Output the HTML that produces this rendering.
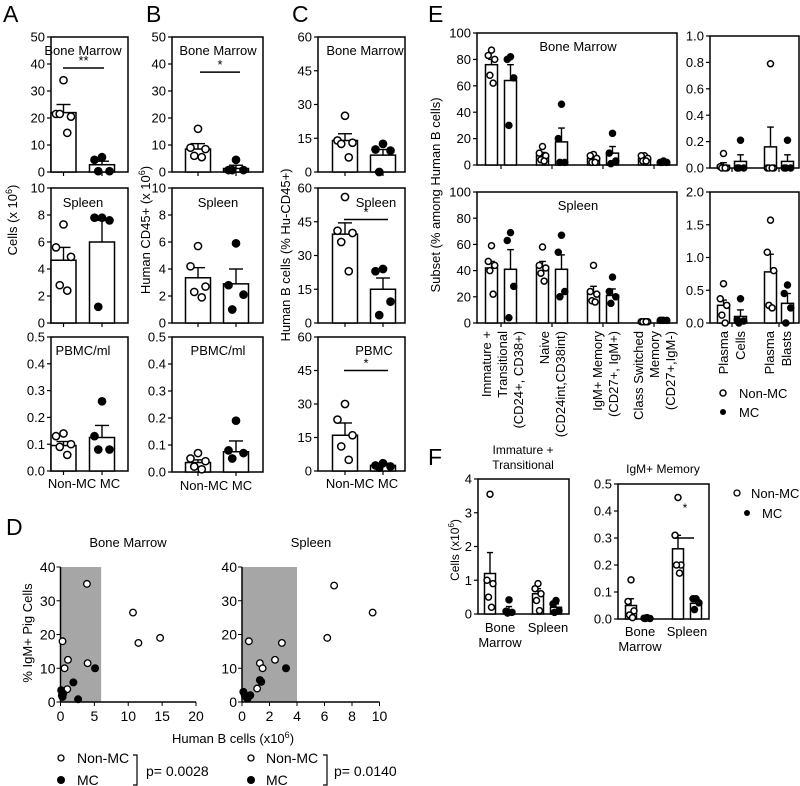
<!DOCTYPE html>
<html><head><meta charset="utf-8"><style>
body{margin:0;background:#fff}
svg{display:block;font-family:"Liberation Sans",sans-serif}
</style></head><body>
<svg id="fig" width="800" height="786" viewBox="0 0 800 786" xmlns="http://www.w3.org/2000/svg">
<g font-size="23">
<text x="3" y="22">A</text>
<text x="146" y="22">B</text>
<text x="292" y="22">C</text>
<text x="428" y="22">E</text>
<text x="6" y="535">D</text>
<text x="428" y="465">F</text>
</g>
<g font-size="13">
<text transform="translate(17,220) rotate(-90)" text-anchor="middle">Cells (x 10<tspan font-size="9" dy="-5">6</tspan><tspan dy="5">)</tspan></text>
<text transform="translate(150,230) rotate(-90)" text-anchor="middle">Human CD45+ (x 10<tspan font-size="9" dy="-5">6</tspan><tspan dy="5">)</tspan></text>
<text transform="translate(290,255) rotate(-90)" text-anchor="middle">Human B cells (% Hu-CD45+)</text>
<text transform="translate(440,195) rotate(-90)" text-anchor="middle">Subset (% among Human B cells)</text>
<text x="84" y="488" text-anchor="middle">Non-MC MC</text>
<text x="216" y="490" text-anchor="middle">Non-MC MC</text>
<text x="362" y="488" text-anchor="middle">Non-MC MC</text>
</g>
<g id="layer"></g>
</svg>
<script>
// ===== Panel A data =====
const aBmMean=[22,2.7], aBmSem=[3,1.3], aBmNon=[34,21.5,20.5,21.5,14.5], aBmMc=[5.5,4.5,0.3,0.3];
const aSpMean=[4.65,6], aSpSem=[0.95,1.6], aSpNon=[7.3,5.6,4.9,2.8,2.4], aSpMc=[7.8,7.8,7.6,1.2];
const aPbMean=[0.095,0.125], aPbSem=[0.015,0.045], aPbNon=[0.14,0.13,0.1,0.09,0.06], aPbMc=[0.26,0.13,0.08,0.08];
// ===== Panel B data =====
const bBmMean=[8.5,1.3], bBmSem=[2,1.2], bBmNon=[16,9,8.5,6,5.5], bBmMc=[4.5,0.7,0.7,0.7];
const bSpMean=[3.35,2.9], bSpSem=[0.75,1.1], bSpNon=[5.7,4.2,2.7,2.3,1.9], bSpMc=[5.9,2.8,2.1,1.0];
const bPbMean=[0.035,0.075], bPbSem=[0.01,0.04], bPbNon=[0.07,0.05,0.04,0.02,0.01], bPbMc=[0.19,0.08,0.07,0.05];
// ===== Panel C data =====
const cBmMean=[14,7.5], cBmSem=[3,2.5], cBmNon=[25,14,13,12.5,6.5], cBmMc=[12.5,10,9.5,0];
const cSpMean=[39.5,15], cSpSem=[5,5], cSpNon=[56,41,40,36,23], cSpMc=[24,23,9.5,3.5];
const cPbMean=[16,2.5], cPbSem=[5.5,1], cPbNon=[30,23,16,11,5], cPbMc=[3.5,2.5,2,1.5];
// ===== Panel E data (subsets: Imm, Naive, IgM mem, CS mem) =====
const eSubsets=["Immature + Transitional","Naive","IgM+ Memory","Class Switched Memory"];
const eBmNonMean=[76,7,5,5], eBmNonSem=[4,2.5,1.5,1], eBmMcMean=[64,17.5,9,2], eBmMcSem=[12,10.5,5,0.5];
const eBmNonPts=[[87,83,80,68,62],[14,9,7,4,3],[8,7,5,2,2],[7,7,5,3,3]];
const eBmMcPts=[[82,80,66,30],[46,20,2,2],[24,9,3,1],[3,2,2,2]];
const eSpNonMean=[42,43,23,1], eSpNonSem=[5,4,5,0.3], eSpMcMean=[41,41,21,1.5], eSpMcSem=[15,11,5,0.3];
const eSpNonPts=[[59,47,44,40,22],[58,44,42,38,32],[44,24,22,17,16],[1,1,1,1,1]];
const eSpMcPts=[[69,63,28,4],[67,54,24,20],[35,24,20,15],[2,2,2,2]];
const ePcBmNonMean=[0.02,0.16], ePcBmNonSem=[0.02,0.15], ePcBmMcMean=[0.05,0.05], ePcBmMcSem=[0.05,0.05];
const ePcBmNonPts=[[0.11,0.01,0,0,0],[0.79,0,0,0,0]], ePcBmMcPts=[[0.21,0,0,0],[0.21,0,0,0]];
const ePcSpNonMean=[0.27,0.78], ePcSpNonSem=[0.08,0.27], ePcSpMcMean=[0.1,0.3], ePcSpMcSem=[0.1,0.15];
const ePcSpNonPts=[[0.6,0.37,0.27,0.12,0],[1.57,1.08,0.8,0.27,0.23]], ePcSpMcPts=[[0.37,0.05,0.03,0],[0.58,0.45,0.23,0]];
// ===== Panel D data =====
const dBmNonX=[0.3,0.6,1.1,1,3.9,4,10.7,11.5,14.7], dBmNonY=[18,10,12.5,3.8,35,11.5,26.5,17.5,19];
const dBmMcX=[0.1,0.2,0.3,0.4,1.9,2.6,5.1], dBmMcY=[3.5,2,1.5,2.5,5.8,0.8,10];
const dSpNonX=[0.5,1.3,1.5,1.1,2.4,2.9,6.2,6.7,9.5], dSpNonY=[18,11.5,10,4,12.5,17.5,19,34.5,26.5];
const dSpMcX=[0.1,0.2,0.3,0.4,0.6,1.3,1.4,3.2], dSpMcY=[3,2,1.5,1,2,6.5,6,10];
// ===== Panel F data (Bone Marrow, Spleen) =====
const fImmNonMean=[1.2,0.6], fImmNonSem=[0.62,0.15], fImmMcMean=[0.1,0.2], fImmMcSem=[0.12,0.1];
const fImmNonPts=[[3.55,1.0,0.9,0.5,0.2],[0.9,0.75,0.6,0.4,0.1]], fImmMcPts=[[0.42,0.08,0.05,0.03],[0.4,0.3,0.1,0.05]];
const fIgmNonMean=[0.05,0.26], fIgmNonSem=[0.025,0.05], fIgmMcMean=[0.003,0.058], fIgmMcSem=[0.002,0.012];
const fIgmNonPts=[[0.145,0.065,0.03,0.015,0.005],[0.45,0.31,0.2,0.2,0.17]], fIgmMcPts=[[0.005,0.003,0.002,0.002],[0.075,0.075,0.06,0.035]];

const NS="http://www.w3.org/2000/svg";
const layer=document.getElementById('layer');
function mk(tag,attrs,parent){const e=document.createElementNS(NS,tag);for(const k in attrs)e.setAttribute(k,attrs[k]);(parent||layer).appendChild(e);return e;}
const JIT=[0,-0.3,0.3,-0.15,0.15];

function barPlot(o){
  const g=mk('g',{});
  
  
  const Y=v=>o.yBot-(v/o.max)*(o.yBot-o.yTop);
  const fs=o.fs||13;
  const r=mk('rect',{x:o.x0,y:o.yTop,width:o.x1-o.x0,height:o.yBot-o.yTop,fill:'none',stroke:'#000','stroke-width':1.5},g);
  
  o.ticks.forEach(t=>{const y=Y(t);mk('line',{x1:o.x0-4,y1:y,x2:o.x0,y2:y,stroke:'#000','stroke-width':1.2},g);
    const tx=mk('text',{x:o.x0-6,y:y+fs*0.35,'text-anchor':'end','font-size':fs},g);tx.textContent=o.fmt?t.toFixed(o.fmt):t;
    });
  (o.xticks||[]).forEach(x=>mk('line',{x1:x,y1:o.yBot,x2:x,y2:o.yBot+4,stroke:'#000','stroke-width':1.2},g));
  o.groups.forEach(gr=>{
    const bw=o.bw, top=Y(gr.mean);
    const b=mk('rect',{x:gr.cx-bw/2,y:top,width:bw,height:o.yBot-top,fill:'#fff',stroke:'#000','stroke-width':1.5},g);
    
    const ye=Y(gr.mean+gr.sem);
    mk('line',{x1:gr.cx,y1:top,x2:gr.cx,y2:ye,stroke:'#000','stroke-width':1.4},g);
    mk('line',{x1:gr.cx-bw*0.28,y1:ye,x2:gr.cx+bw*0.28,y2:ye,stroke:'#000','stroke-width':1.4},g);
    gr.pts.forEach((v,i)=>{const c=mk('circle',{cx:gr.cx+JIT[i]*bw*(o.jit||1),cy:Y(v),r:o.r||3.6,fill:gr.filled?'#000':'#fff',stroke:'#000','stroke-width':1.5},g);
      });
  });
  (o.sig||[]).forEach(s=>{const y=Y(s[2]);mk('line',{x1:s[0],y1:y,x2:s[1],y2:y,stroke:'#000','stroke-width':1.5},g);
    const t=mk('text',{x:(s[0]+s[1])/2,y:y-3,'text-anchor':'middle','font-size':13},g);t.textContent=s[3];});
  if(o.title){const t=mk('text',{x:o.tx,y:o.ty,'text-anchor':'middle','font-size':o.tfs||13},g);t.textContent=o.title;
    }
  return g;
}
function two(means,sems,non,mc,c1,c2){return [{cx:c1,mean:means[0],sem:sems[0],pts:non},{cx:c2,mean:means[1],sem:sems[1],pts:mc,filled:true}];}
// A
barPlot({name:'a-bone-marrow',x0:51,x1:128,yTop:37,yBot:172,max:50,ticks:[0,10,20,30,40,50],bw:25,xticks:[63.5,102],groups:two(aBmMean,aBmSem,aBmNon,aBmMc,63.5,102),title:'Bone Marrow',tx:83,ty:55,sig:[[63,104,38.5,'**']]});
barPlot({name:'a-spleen',x0:51,x1:128,yTop:188,yBot:323,max:10,ticks:[0,2,4,6,8,10],bw:25,xticks:[63.5,102],groups:two(aSpMean,aSpSem,aSpNon,aSpMc,63.5,102),title:'Spleen',tx:83,ty:207});
barPlot({name:'a-pbmc',x0:51,x1:128,yTop:337,yBot:471,max:0.5,ticks:[0,0.1,0.2,0.3,0.4,0.5],fmt:1,bw:25,xticks:[63.5,102],groups:two(aPbMean,aPbSem,aPbNon,aPbMc,63.5,102),title:'PBMC/ml',tx:83,ty:355});
// B
barPlot({name:'b-bone-marrow',x0:172,x1:263,yTop:37,yBot:172,max:50,ticks:[0,10,20,30,40,50],bw:25,xticks:[198,236],groups:two(bBmMean,bBmSem,bBmNon,bBmMc,198,236),title:'Bone Marrow',tx:218,ty:55,sig:[[200,240,37,'*']]});
barPlot({name:'b-spleen',x0:172,x1:263,yTop:188,yBot:323,max:10,ticks:[0,2,4,6,8,10],bw:25,xticks:[198,236],groups:two(bSpMean,bSpSem,bSpNon,bSpMc,198,236),title:'Spleen',tx:218,ty:207});
barPlot({name:'b-pbmc',x0:172,x1:263,yTop:337,yBot:472,max:0.5,ticks:[0,0.1,0.2,0.3,0.4,0.5],fmt:1,bw:25,xticks:[198,236],groups:two(bPbMean,bPbSem,bPbNon,bPbMc,198,236),title:'PBMC/ml',tx:218,ty:355});
// C
barPlot({name:'c-bone-marrow',x0:318,x1:405,yTop:37,yBot:172,max:60,ticks:[0,15,30,45,60],bw:25,xticks:[345,383],groups:two(cBmMean,cBmSem,cBmNon,cBmMc,345,383),title:'Bone Marrow',tx:365,ty:55});
barPlot({name:'c-spleen',x0:318,x1:405,yTop:188,yBot:323,max:60,ticks:[0,15,30,45,60],bw:25,xticks:[345,383],groups:two(cSpMean,cSpSem,cSpNon,cSpMc,345,383),title:'Spleen',tx:376,ty:207,sig:[[344,388,46,'*']]});
barPlot({name:'c-pbmc',x0:318,x1:405,yTop:337,yBot:471,max:60,ticks:[0,15,30,45,60],bw:25,xticks:[345,383],groups:two(cPbMean,cPbSem,cPbNon,cPbMc,345,383),title:'PBMC',tx:374,ty:355,sig:[[344,388,45,'*']]});
// E
const eTicks=[501,552,603,654];
function eGroups(nm,ns,mm,ms,np,mp,ticks,off){const out=[];ticks.forEach((t,i)=>{out.push({cx:t-off,mean:nm[i],sem:ns[i],pts:np[i]});out.push({cx:t+off,mean:mm[i],sem:ms[i],pts:mp[i],filled:true});});return out;}
barPlot({name:'e-bone-marrow-subsets',x0:477,x1:677,yTop:33,yBot:165,max:100,ticks:[0,20,40,60,80,100],bw:12,r:3,jit:0.9,xticks:eTicks,groups:eGroups(eBmNonMean,eBmNonSem,eBmMcMean,eBmMcSem,eBmNonPts,eBmMcPts,eTicks,9.5),title:'Bone Marrow',tx:578,ty:51});
barPlot({name:'e-spleen-subsets',x0:477,x1:677,yTop:192,yBot:323,max:100,ticks:[0,20,40,60,80,100],bw:12,r:3,jit:0.9,xticks:eTicks,groups:eGroups(eSpNonMean,eSpNonSem,eSpMcMean,eSpMcSem,eSpNonPts,eSpMcPts,eTicks,9.5),title:'Spleen',tx:578,ty:210});
const pTicks=[732,779];
barPlot({name:'e-bone-marrow-plasma',x0:710,x1:799,yTop:36,yBot:168,max:1,ticks:[0,0.2,0.4,0.6,0.8,1.0],fmt:1,bw:12,r:3,jit:0.9,xticks:pTicks,groups:eGroups(ePcBmNonMean,ePcBmNonSem,ePcBmMcMean,ePcBmMcSem,ePcBmNonPts,ePcBmMcPts,pTicks,8.5)});
barPlot({name:'e-spleen-plasma',x0:710,x1:799,yTop:192,yBot:323,max:2,ticks:[0,0.5,1.0,1.5,2.0],fmt:1,bw:12,r:3,jit:0.9,xticks:pTicks,groups:eGroups(ePcSpNonMean,ePcSpNonSem,ePcSpMcMean,ePcSpMcSem,ePcSpNonPts,ePcSpMcPts,pTicks,8.5)});
const eLab=[[486,"Immature +"],[502,"Transitional"],[518,"(CD24+, CD38+)"],[544,"Naive"],[560,"(CD24int,CD38int)"],[597,"IgM+ Memory"],[613,"(CD27+, IgM+)"],[638,"Class Switched"],[654,"Memory"],[670,"(CD27+,IgM-)"],[723,"Plasma"],[740,"Cells"],[769,"Plasma"],[786,"Blasts"]];
eLab.forEach(l=>{const t=mk('text',{transform:`translate(${l[0]+5},331) rotate(-90)`,'text-anchor':'end','font-size':13});t.textContent=l[1];
  });
mk('circle',{cx:723,cy:393,r:3,fill:'#fff',stroke:'#000','stroke-width':1.5});
mk('circle',{cx:723,cy:412,r:3,fill:'#000'});
{const t=mk('text',{x:739,y:398,'font-size':13});t.textContent='Non-MC';}
{const t=mk('text',{x:739,y:417,'font-size':13});t.textContent='MC';}

function txt(x,y,html,fs,name,anchor){const t=mk('text',{x:x,y:y,'font-size':fs,'text-anchor':anchor||'start'});t.innerHTML=html;return t;}
// D scatter
function scatter(o){
  const g=mk('g',{});
  const X=v=>o.x0+v/o.xmax*(o.x1-o.x0), Y=v=>o.yBot-v/40*(o.yBot-o.yTop);
  mk('rect',{x:X(0),y:o.yTop,width:X(o.shade)-X(0),height:o.yBot-o.yTop,fill:'#a6a6a6'},g);
  mk('line',{x1:o.x0,y1:o.yTop,x2:o.x0,y2:o.yBot,stroke:'#000','stroke-width':1.5},g);
  mk('line',{x1:o.x0,y1:o.yBot,x2:o.x1,y2:o.yBot,stroke:'#000','stroke-width':1.5},g);
  [0,10,20,30,40].forEach(t=>{mk('line',{x1:o.x0-4,y1:Y(t),x2:o.x0,y2:Y(t),stroke:'#000'},g);const s=mk('text',{x:o.x0-5,y:Y(t)+5,'text-anchor':'end','font-size':14},g);s.textContent=t;});
  o.xt.forEach(t=>{mk('line',{x1:X(t),y1:o.yBot,x2:X(t),y2:o.yBot+4,stroke:'#000'},g);const s=mk('text',{x:X(t),y:o.yBot+19,'text-anchor':'middle','font-size':14},g);s.textContent=t;});
  o.nx.forEach((v,i)=>{const c=mk('circle',{cx:X(v),cy:Y(o.ny[i]),r:3.3,fill:'#fff',stroke:'#000','stroke-width':1.3},g);});
  o.mx.forEach((v,i)=>{const c=mk('circle',{cx:X(v),cy:Y(o.my[i]),r:4,fill:'#000'},g);});
  const t=mk('text',{x:o.tx,y:547,'text-anchor':'middle','font-size':13},g);t.textContent=o.title;
}
scatter({name:'d-bone-marrow-scatter',x0:60.5,x1:196,yTop:567,yBot:702,xmax:20,shade:6,xt:[0,5,10,15,20],nx:dBmNonX,ny:dBmNonY,mx:dBmMcX,my:dBmMcY,title:'Bone Marrow',tx:128});
scatter({name:'d-spleen-scatter',x0:242,x1:379.5,yTop:567,yBot:702,xmax:10,shade:4,xt:[0,2,4,6,8,10],nx:dSpNonX,ny:dSpNonY,mx:dSpMcX,my:dSpMcY,title:'Spleen',tx:311});
{const t=mk('text',{transform:'translate(32,633) rotate(-90)','text-anchor':'middle','font-size':13});t.textContent='% IgM+ Pig Cells';}
txt(233,743,'Human B cells (x10<tspan font-size="9" dy="-5">6</tspan><tspan dy="5">)</tspan>',13,'d-x-axis-title','middle');
[[61,77,137,146,'p=  0.0028'],[251,266,327,334,'p= 0.0140']].forEach(L=>{
  mk('circle',{cx:L[0],cy:758,r:3,fill:'#fff',stroke:'#000','stroke-width':1.3});
  mk('circle',{cx:L[0],cy:780,r:4,fill:'#000'});
  txt(L[1],763,'Non-MC',14,'d-legend-non-mc');txt(L[1],785,'MC',14,'d-legend-mc');
  mk('path',{d:`M${L[2]-4},755 H${L[2]} V785 H${L[2]-4}`,fill:'none',stroke:'#000','stroke-width':1.2});
  txt(L[3],776,L[4],14,'d-p-value');
});
// F
function fGroups(nm,ns,mm,ms,np,mp,centers){const out=[];centers.forEach((c,i)=>{out.push({cx:c[0],mean:nm[i],sem:ns[i],pts:np[i]});out.push({cx:c[1],mean:mm[i],sem:ms[i],pts:mp[i],filled:true});});return out;}
barPlot({name:'f-immature-transitional',x0:478,x1:569,yTop:479,yBot:614,max:4,ticks:[0,1,2,3,4],fs:13,bw:11,r:3,jit:0.9,groups:fGroups(fImmNonMean,fImmNonSem,fImmMcMean,fImmMcSem,fImmNonPts,fImmMcPts,[[490,509],[538,556]])});
barPlot({name:'f-igm-memory',x0:618,x1:709,yTop:484,yBot:619,max:0.5,ticks:[0,0.1,0.2,0.3,0.4,0.5],fmt:1,fs:13,bw:11,r:3,jit:0.9,groups:fGroups(fIgmNonMean,fIgmNonSem,fIgmMcMean,fIgmMcSem,fIgmNonPts,fIgmMcPts,[[631,647],[678,696]]),sig:[[675,694,0.30,'']]});
txt(685,512,'*',12,'f-significance','middle');
txt(523,454,'Immature +',12,'f-left-title-1','middle');
txt(523,469,'Transitional',12,'f-left-title-2','middle');
txt(663,473,'IgM+ Memory',12,'f-right-title','middle');
txt(500,632,'Bone',13,'f-x-label','middle');txt(500,647,'Marrow',13,'f-x-label','middle');txt(548,632,'Spleen',13,'f-x-label','middle');
txt(640,636,'Bone',13,'f-x-label','middle');txt(640,651,'Marrow',13,'f-x-label','middle');txt(687,636,'Spleen',13,'f-x-label','middle');
{const t=mk('text',{transform:'translate(459,550) rotate(-90)','text-anchor':'middle','font-size':12});t.innerHTML='Cells (x10<tspan font-size="8" dy="-5">6</tspan><tspan dy="5">)</tspan>';}
mk('circle',{cx:737,cy:493,r:3,fill:'#fff',stroke:'#000','stroke-width':1.3});
mk('circle',{cx:747,cy:513,r:3,fill:'#000'});
txt(751,498,'Non-MC',13,'f-legend-non-mc');txt(762,518,'MC',13,'f-legend-mc');
</script>
</body></html>
